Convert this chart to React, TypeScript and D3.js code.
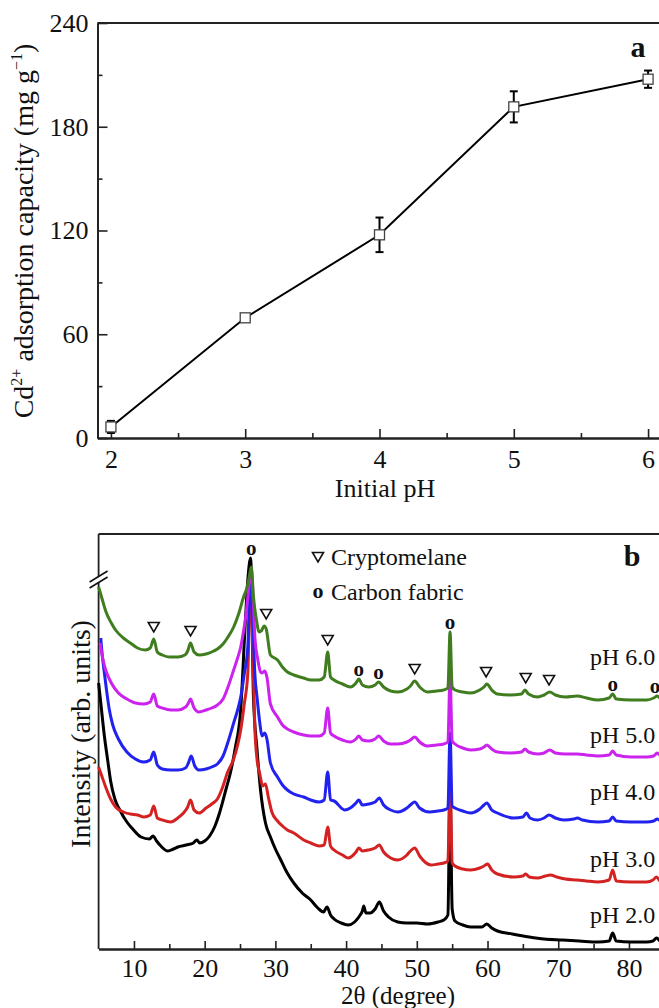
import React, { useRef, useEffect } from 'react';
import * as d3 from 'd3';

// ---- panel a: adsorption capacity vs initial pH ----
const phValues = [2, 3, 4, 5, 6];
const capacity = [6.4, 69.5, 117.5, 191.5, 207.5];
const capacityErr = [3.5, 2, 10, 9, 5];
const capacityTicks = [0, 60, 120, 180, 240];
const capacityMinor = [30, 90, 150, 210];
const phTicks = [2, 3, 4, 5, 6];
const phMinor = [2.5, 3.5, 4.5, 5.5];

// ---- panel b: XRD patterns, [2theta, intensity (arb.)] ----
const twoThetaTicks = [10, 20, 30, 40, 50, 60, 70, 80];
const twoThetaMinor = [15, 25, 35, 45, 55, 65, 75];

const xrdPH60 = [
  [5.0, 362], [5.5, 350], [6.0, 338], [6.8, 326], [7.4, 319], [8.5, 311], [9.5, 306], [10.5, 301], [11.6, 299],
  [12.3, 301], [12.8, 310], [13.3, 297], [14.0, 294], [15.0, 292], [16.2, 292], [17.2, 294], [17.6, 298], [18.0, 306],
  [18.5, 297], [19.2, 294], [20.2, 295], [21.0, 297], [21.8, 300], [22.6, 305], [23.3, 312], [24.1, 322], [24.8, 335],
  [25.5, 352], [26.0, 362], [26.3, 372], [26.6, 382], [26.9, 352], [27.3, 330], [27.7, 317], [28.0, 318], [28.4, 323],
  [28.7, 320], [29.3, 294], [30.3, 289], [31.0, 282], [31.7, 277], [32.6, 274], [34.0, 271], [35.0, 269], [36.2, 269],
  [36.9, 272], [37.4, 297], [37.8, 272], [38.3, 269], [39.5, 265], [40.6, 262], [41.4, 266], [41.8, 270], [42.3, 264],
  [43.2, 262], [44.1, 264], [44.6, 267], [45.3, 262], [46.3, 258], [47.3, 257], [48.6, 260], [49.1, 263], [49.7, 268],
  [50.4, 262], [51.5, 257], [52.8, 258], [53.8, 259], [54.4, 261], [54.7, 317], [55.0, 262], [55.4, 259], [56.5, 257],
  [57.6, 256], [58.9, 259], [59.5, 262], [59.9, 265], [60.6, 259], [61.4, 255], [63.2, 254], [64.8, 255], [65.3, 259],
  [65.8, 255], [67.1, 252], [68.0, 254], [68.8, 257], [69.6, 254], [71.0, 252], [72.7, 253], [74.0, 251], [75.6, 249],
  [77.2, 251], [77.7, 255], [78.2, 250], [80.3, 249], [82.5, 249], [83.5, 251], [84.0, 253], [84.5, 250], [85.0, 249],
];

const xrdPH50 = [
  [5.2, 306], [5.6, 290], [6.0, 279], [6.8, 266], [7.8, 256], [9.0, 250], [10.2, 246], [11.4, 245], [12.3, 247],
  [12.8, 255], [13.3, 243], [14.0, 241], [15.2, 239], [16.2, 239], [17.3, 242], [17.7, 246], [18.0, 250], [18.5, 241],
  [19.2, 237], [20.2, 239], [21.0, 241], [21.8, 244], [22.6, 250], [23.3, 262], [24.1, 279], [24.7, 292], [25.1, 302],
  [25.5, 318], [25.8, 332], [26.3, 365], [26.6, 379], [26.8, 360], [27.1, 312], [27.5, 290], [27.9, 277], [28.1, 276],
  [28.5, 278], [28.8, 272], [29.3, 245], [30.3, 232], [31.0, 224], [31.7, 220], [32.6, 217], [34.0, 214], [35.0, 213],
  [36.2, 213], [36.9, 216], [37.4, 241], [37.8, 216], [38.3, 213], [39.5, 209], [40.6, 207], [41.4, 210], [41.8, 213],
  [42.3, 209], [43.2, 208], [44.1, 210], [44.6, 213], [45.3, 208], [46.3, 205], [47.3, 205], [48.6, 207], [49.1, 209],
  [49.7, 212], [50.4, 207], [51.5, 203], [52.8, 204], [53.8, 205], [54.4, 207], [54.7, 274], [55.0, 208], [55.4, 205],
  [56.5, 201], [57.6, 199], [58.9, 200], [59.5, 202], [59.9, 204], [60.6, 200], [61.4, 197], [63.2, 196], [64.8, 197],
  [65.3, 200], [65.8, 197], [67.1, 195], [68.0, 196], [68.8, 199], [69.6, 196], [71.0, 195], [72.7, 195], [74.0, 194],
  [75.6, 193], [77.2, 194], [77.7, 198], [78.2, 194], [80.3, 192], [82.5, 192], [83.5, 193], [84.0, 196], [84.5, 193],
  [85.0, 192],
];

const xrdPH40 = [
  [5.3, 311], [5.5, 295], [5.8, 277], [6.1, 260], [6.5, 240], [7.0, 224], [7.8, 210], [9.0, 197], [10.2, 190],
  [11.4, 187], [12.3, 189], [12.8, 197], [13.3, 184], [14.0, 180], [15.2, 179], [16.2, 179], [17.3, 181], [17.7, 186],
  [18.1, 193], [18.6, 183], [19.2, 179], [20.2, 180], [21.0, 182], [21.8, 185], [22.6, 193], [23.3, 207], [24.1, 226],
  [24.7, 240], [25.1, 252], [25.6, 275], [26.1, 302], [26.5, 376], [26.8, 330], [27.1, 275], [27.4, 252], [27.8, 226],
  [28.1, 213], [28.5, 216], [28.8, 210], [29.3, 186], [30.3, 172], [31.0, 164], [31.7, 159], [32.6, 155], [34.0, 152],
  [35.0, 149], [36.2, 147], [36.9, 149], [37.4, 177], [37.8, 149], [38.3, 148], [39.8, 139], [40.6, 141], [41.4, 146],
  [41.8, 149], [42.3, 144], [43.2, 145], [44.1, 147], [44.7, 151], [45.3, 144], [46.3, 139], [47.3, 137], [48.6, 141],
  [49.1, 144], [49.7, 147], [50.4, 141], [51.8, 137], [53.0, 138], [53.8, 139], [54.4, 141], [54.7, 216], [55.0, 143],
  [55.4, 141], [56.5, 138], [57.6, 136], [58.9, 140], [59.5, 144], [59.9, 146], [60.6, 139], [61.4, 136], [63.7, 131],
  [65.0, 132], [65.5, 136], [66.0, 131], [67.1, 129], [68.0, 131], [68.7, 134], [69.6, 131], [70.8, 129], [72.2, 130],
  [72.7, 131], [73.4, 129], [75.6, 127], [77.2, 128], [77.7, 132], [78.2, 128], [80.3, 127], [82.5, 127], [83.5, 128],
  [84.0, 130], [84.5, 128], [85.0, 127],
];

const xrdPH30 = [
  [5.0, 182], [5.5, 172], [6.0, 162], [6.7, 150], [7.4, 142], [8.5, 137], [9.5, 135], [10.5, 134], [11.4, 132],
  [12.3, 134], [12.8, 143], [13.3, 131], [14.0, 129], [15.2, 127], [16.2, 131], [17.0, 136], [17.6, 142], [18.0, 149],
  [18.5, 139], [19.2, 136], [20.2, 141], [21.0, 145], [21.8, 150], [22.6, 163], [23.2, 176], [24.1, 190], [24.7, 205],
  [25.1, 219], [25.6, 245], [26.1, 276], [26.5, 379], [26.8, 300], [27.1, 220], [27.4, 190], [27.8, 175], [28.2, 163],
  [28.6, 165], [29.0, 152], [29.5, 137], [30.3, 128], [31.0, 123], [31.7, 119], [32.6, 116], [34.0, 109], [35.0, 106],
  [36.2, 103], [36.9, 104], [37.4, 122], [37.8, 103], [38.3, 99], [39.5, 94], [40.3, 91], [41.4, 97], [41.8, 101],
  [42.3, 98], [43.1, 99], [44.1, 101], [44.7, 104], [45.3, 97], [46.3, 91], [47.3, 89], [48.6, 94], [49.1, 98],
  [49.7, 101], [50.4, 93], [52.0, 84], [53.0, 85], [53.8, 86], [54.4, 88], [54.7, 174], [55.0, 86], [55.4, 83],
  [56.5, 80], [57.6, 79], [58.9, 81], [59.5, 83], [60.0, 85], [60.6, 79], [61.4, 75], [63.7, 72], [65.0, 73],
  [65.4, 75], [65.9, 72], [67.1, 71], [68.2, 73], [68.9, 74], [69.8, 72], [71.0, 70], [72.7, 69], [74.0, 68],
  [75.6, 67], [77.2, 69], [77.7, 79], [78.2, 68], [80.3, 67], [82.5, 67], [83.4, 69], [83.9, 72], [84.4, 68], [85.0, 67],
];

const xrdPH20 = [
  [5.0, 266], [5.4, 240], [5.8, 214], [6.3, 188], [6.7, 168], [7.3, 150], [8.0, 139], [9.0, 127], [9.7, 121],
  [11.0, 112], [12.2, 110], [12.7, 113], [13.2, 108], [13.8, 103], [14.8, 98], [15.6, 100], [16.2, 102], [17.4, 104],
  [18.4, 106], [18.9, 109], [19.3, 106], [20.0, 108], [20.7, 113], [21.4, 122], [22.1, 136], [23.1, 162], [23.6, 175],
  [24.3, 200], [25.1, 240], [25.7, 320], [26.1, 369], [26.5, 391], [26.9, 252], [27.4, 200], [27.9, 159], [28.6, 126],
  [29.3, 112], [30.0, 100], [30.7, 90], [31.6, 77], [32.6, 66], [33.8, 56], [35.0, 49], [36.0, 41], [36.8, 37],
  [37.3, 42], [37.8, 34], [38.3, 30], [39.3, 26], [40.3, 24], [41.2, 27], [41.9, 33], [42.3, 38], [42.5, 43],
  [42.8, 36], [43.4, 36], [44.1, 40], [44.7, 47], [45.3, 38], [46.0, 32], [47.3, 27], [48.6, 26], [50.0, 26],
  [51.5, 25], [53.0, 27], [53.8, 29], [54.4, 34], [54.7, 159], [55.0, 40], [55.4, 28], [56.5, 24], [57.6, 22],
  [59.2, 22], [59.9, 25], [60.6, 21], [61.4, 18], [63.5, 15], [65.9, 12], [68.0, 10], [70.6, 9], [73.0, 8],
  [75.6, 7], [77.2, 8], [77.7, 16], [78.2, 8], [80.3, 7], [82.5, 7], [83.4, 8], [83.9, 11], [84.4, 8], [85.0, 7],
];

const xrdNames = ['pH 2.0', 'pH 3.0', 'pH 4.0', 'pH 5.0', 'pH 6.0'];
const cryptomelanePeaks = [12.8, 18.0, 28.7, 37.4, 49.7, 59.8, 65.4, 68.7];
const carbonPeaks = [26.6, 41.8, 44.6, 54.7, 77.7, 83.7];

const FONT = "'Liberation Serif', 'Times New Roman', serif";
const AXIS = '#222';

const seriesStyle = [
  { data: xrdPH20, color: '#000000', labelLevel: 26 },
  { data: xrdPH30, color: '#d42222', labelLevel: 82 },
  { data: xrdPH40, color: '#2222ee', labelLevel: 149 },
  { data: xrdPH50, color: '#cc22ee', labelLevel: 206 },
  { data: xrdPH60, color: '#3f7d1f', labelLevel: 284 },
];

function styleAxis(g) {
  g.attr('font-family', null).attr('font-size', null);
  g.selectAll('path').attr('stroke', AXIS).attr('stroke-width', 1.8);
  g.selectAll('line').attr('stroke', AXIS).attr('stroke-width', 1.6);
  g.selectAll('text').style('font-family', FONT).style('font-size', '26px').attr('fill', '#111');
}

function label(g, x, y, txt, size, opts = {}) {
  return g.append('text').attr('x', x).attr('y', y)
    .attr('text-anchor', opts.anchor || 'start')
    .style('font-family', FONT).style('font-size', size + 'px')
    .style('font-weight', opts.bold ? 'bold' : 'normal')
    .attr('fill', '#111')
    .text(txt);
}

// shrink a rotated title so it spans the same length as in the figure
function fitLength(sel, target, base) {
  const len = sel.node().getComputedTextLength();
  if (len > target) sel.style('font-size', (base * target / len).toFixed(2) + 'px');
}

function triangle(g, cx, cy) {
  g.append('path')
    .attr('d', `M${cx - 5.5},${cy - 4.5}L${cx + 5.5},${cy - 4.5}L${cx},${cy + 5}Z`)
    .attr('fill', 'white')
    .attr('stroke', '#111')
    .attr('stroke-width', 1.6);
}

function App() {
  const aRef = useRef();
  const bRef = useRef();

  useEffect(() => {
    drawA();
    drawB();
  }, []);

  const drawA = () => {
    const g = d3.select(aRef.current);
    g.selectAll('*').remove();
    const x = d3.scaleLinear().domain([1.9, 6.1]).range([97.5, 661.5]);
    const y = d3.scaleLinear().domain([0, 240]).range([438, 23]);

    // frame top
    g.append('line').attr('x1', x.range()[0]).attr('x2', x.range()[1])
      .attr('y1', y(240)).attr('y2', y(240)).attr('stroke', AXIS).attr('stroke-width', 1.8);

    g.append('g').attr('transform', `translate(0,${y(0)})`)
      .call(d3.axisBottom(x).tickValues(phMinor).tickSize(-5).tickSizeOuter(0).tickFormat(() => ''))
      .call(styleAxis);
    g.append('g').attr('transform', `translate(0,${y(0)})`)
      .call(d3.axisBottom(x).tickValues(phTicks).tickSize(-9).tickSizeOuter(0).tickPadding(12).tickFormat(d3.format('d')))
      .call(styleAxis);

    g.append('g').attr('transform', `translate(${x(1.9)},0)`)
      .call(d3.axisLeft(y).tickValues(capacityMinor).tickSize(-5).tickSizeOuter(0).tickFormat(() => ''))
      .call(styleAxis);
    g.append('g').attr('transform', `translate(${x(1.9)},0)`)
      .call(d3.axisLeft(y).tickValues(capacityTicks).tickSize(-10).tickSizeOuter(0).tickPadding(9).tickFormat(d3.format('d')))
      .call(styleAxis);

    const pts = phValues.map((p, i) => ({ p, v: capacity[i], e: capacityErr[i] }));
    const line = d3.line().x(d => x(d.p)).y(d => y(d.v));
    g.append('path').datum(pts).attr('d', line).attr('fill', 'none')
      .attr('stroke', '#000').attr('stroke-width', 2);

    const err = g.selectAll('.err').data(pts).enter().append('g');
    err.append('line').attr('x1', d => x(d.p)).attr('x2', d => x(d.p))
      .attr('y1', d => y(d.v - d.e)).attr('y2', d => y(d.v + d.e))
      .attr('stroke', '#000').attr('stroke-width', 2);
    [-1, 1].forEach(s => {
      err.append('line').attr('x1', d => x(d.p) - 4).attr('x2', d => x(d.p) + 4)
        .attr('y1', d => y(d.v + s * d.e)).attr('y2', d => y(d.v + s * d.e))
        .attr('stroke', '#000').attr('stroke-width', 2);
    });
    g.selectAll('.sq').data(pts).enter().append('rect')
      .attr('x', d => x(d.p) - 5).attr('y', d => y(d.v) - 5)
      .attr('width', 10).attr('height', 10)
      .attr('fill', 'white').attr('stroke', '#444').attr('stroke-width', 1.3);

    label(g, 638, 57, 'a', 30, { anchor: 'middle', bold: true });
    label(g, 385, 497, 'Initial pH', 26, { anchor: 'middle' });

    const yl = label(g, 0, 0, '', 28, { anchor: 'middle' }).attr('x', null).attr('y', null)
      .attr('transform', 'translate(33,231) rotate(-90)');
    yl.append('tspan').text('Cd');
    yl.append('tspan').attr('dy', -11).style('font-size', '16px').text('2+');
    yl.append('tspan').attr('dy', 11).text(' adsorption capacity (mg g');
    yl.append('tspan').attr('dy', -11).style('font-size', '16px').text('\u22121');
    yl.append('tspan').attr('dy', 11).text(')');
    fitLength(yl, 377, 28);
  };

  const drawB = () => {
    const g = d3.select(bRef.current);
    g.selectAll('*').remove();
    const x = d3.scaleLinear().domain([5, 85]).range([98.6, 664.3]);
    const y = d3.scaleLinear().domain([0, 415]).range([949, 534]);

    g.append('line').attr('x1', x(5)).attr('x2', x(85)).attr('y1', y(415)).attr('y2', y(415))
      .attr('stroke', AXIS).attr('stroke-width', 1.8);
    g.append('line').attr('x1', x(5)).attr('x2', x(5)).attr('y1', y(415)).attr('y2', y(0))
      .attr('stroke', AXIS).attr('stroke-width', 1.8);

    g.append('g').attr('transform', `translate(0,${y(0)})`)
      .call(d3.axisBottom(x).tickValues(twoThetaMinor).tickSize(-5).tickSizeOuter(0).tickFormat(() => ''))
      .call(styleAxis);
    g.append('g').attr('transform', `translate(0,${y(0)})`)
      .call(d3.axisBottom(x).tickValues(twoThetaTicks).tickSize(-8).tickSizeOuter(0).tickPadding(10).tickFormat(d3.format('d')))
      .call(styleAxis);

    // axis break
    const bx = x(5);
    const by = 580;
    g.append('path').attr('d', `M${bx - 8},${by + 2}L${bx + 8},${by - 8}L${bx + 8},${by - 3}L${bx - 8},${by + 7}Z`)
      .attr('fill', 'white').attr('stroke', 'none');
    g.append('line').attr('x1', bx - 9).attr('y1', by + 2).attr('x2', bx + 9).attr('y2', by - 9)
      .attr('stroke', '#111').attr('stroke-width', 1.6);
    g.append('line').attr('x1', bx - 9).attr('y1', by + 8).attr('x2', bx + 9).attr('y2', by - 3)
      .attr('stroke', '#111').attr('stroke-width', 1.6);

    const line = d3.line().x(d => x(d[0])).y(d => y(d[1])).curve(d3.curveMonotoneX);
    seriesStyle.forEach((s, i) => {
      g.append('path').datum(s.data).attr('d', line).attr('fill', 'none')
        .attr('stroke', s.color).attr('stroke-width', 3).attr('stroke-linejoin', 'round');
      label(g, 590, y(s.labelLevel), xrdNames[i], 24);
    });

    const peakLevel = t => d3.max(seriesStyle, s => d3.max(s.data.filter(d => Math.abs(d[0] - t) <= 0.5), d => d[1]));
    cryptomelanePeaks.forEach(t => triangle(g, x(t), y(peakLevel(t)) - 12));
    carbonPeaks.forEach(t => label(g, x(t), y(peakLevel(t)) - 3, 'o', 21, { anchor: 'middle', bold: true }));

    // legend
    triangle(g, 318, 557);
    label(g, 331, 565, 'Cryptomelane', 24);
    label(g, 318, 598, 'o', 22, { anchor: 'middle', bold: true });
    label(g, 331, 600, 'Carbon fabric', 24);

    label(g, 632, 566, 'b', 30, { anchor: 'middle', bold: true });
    label(g, 398, 1004, '2\u03B8 (degree)', 25, { anchor: 'middle' });
    const il = label(g, 0, 0, 'Intensity (arb. units)', 28, { anchor: 'middle' }).attr('x', null).attr('y', null)
      .attr('transform', 'translate(90,734) rotate(-90)');
    fitLength(il, 230, 28);
  };

  return (
    <svg width={659} height={1008} style={{ position: 'absolute', left: 0, top: 0, background: 'white' }}>
      <rect width={659} height={1008} fill="white" />
      <g ref={aRef} />
      <g ref={bRef} />
    </svg>
  );
}

export default App;
